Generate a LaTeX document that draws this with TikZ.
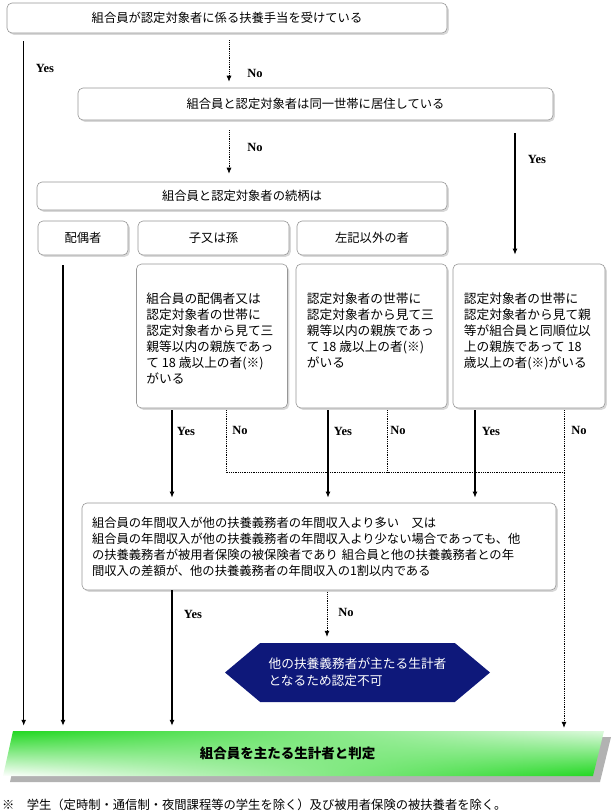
\documentclass[tikz,border=0pt]{standalone}
\usepackage{fontspec}
\setmainfont{Liberation Serif}
\newfontfamily\jpfont{Noto Sans CJK JP}
\usepackage{tikz}
\usetikzlibrary{arrows.meta,shadows,shadings,shapes.symbols,calc}
\definecolor{boxline}{RGB}{150,150,150}
\definecolor{failblue}{RGB}{14,24,122}
\definecolor{bargreen}{RGB}{30,215,30}
\newcommand{\jptext}{\jpfont\fontsize{12.3pt}{16pt}\selectfont}
\newcommand{\asktext}{\jpfont\fontsize{12.7pt}{16pt}\selectfont}

\begin{document}
\begin{tikzpicture}[x=1pt,y=-1pt,
  box/.style={draw=boxline,fill=white,rounded corners=5pt,line width=0.6pt,
    drop shadow={shadow xshift=1.8pt,shadow yshift=-1.8pt,fill=gray!60},
    inner sep=0pt,font=\jptext},
  asktxt/.style={anchor=north west,align=left,inner sep=0pt,font=\asktext},
  yesline/.style={line width=1.2pt,-{Latex[length=6pt,width=5pt]},shorten >=5pt},
  noline/.style={line width=0.7pt,dash pattern=on 1pt off 0.8pt,-{Latex[length=6pt,width=5pt]},shorten >=6pt},
  noway/.style={line width=0.7pt,dash pattern=on 1pt off 0.8pt},
  lab/.style={font=\bfseries\fontsize{12.5pt}{13pt}\selectfont,inner sep=0pt},
  fail/.style={shape=signal,signal to=west and east,signal pointer angle=80,
    fill=failblue,text=white,minimum width=265,minimum height=59,inner sep=0pt,
    align=left,font=\jpfont\fontsize{12.7pt}{17pt}\selectfont}]
\useasboundingbox (0,0) rectangle (614,812);
%
\node[box,minimum width=440,minimum height=30] (own) at (227,18) {組合員が認定対象者に係る扶養手当を受けている};
\node[box,minimum width=475,minimum height=32] (same) at (315.5,104) {組合員と認定対象者は同一世帯に居住している};
\node[box,minimum width=410,minimum height=28] (rel) at (242,196) {組合員と認定対象者の続柄は};
\node[box,minimum width=90,minimum height=34] (spouse) at (83,238) {配偶者};
\node[box,minimum width=151,minimum height=34] (child) at (213.5,238) {子又は孫};
\node[box,minimum width=150,minimum height=34] (other) at (372,238) {左記以外の者};
%
\node[box,minimum width=151,minimum height=144] (askA) at (212,336) {};
\node[box,minimum width=151,minimum height=144] (askB) at (371.5,336) {};
\node[box,minimum width=152,minimum height=144] (askC) at (529,336) {};
\node[asktxt] (askAtxt) at ($(askA.north west)+(10,29)$) {組合員の配偶者又は\\認定対象者の世帯に\\認定対象者から見て三\\親等以内の親族であっ\\て 18 歳以上の者(※)\\がいる};
\node[asktxt] (askBtxt) at ($(askB.north west)+(11,29)$) {認定対象者の世帯に\\認定対象者から見て三\\親等以内の親族であっ\\て 18 歳以上の者(※)\\がいる};
\node[asktxt] (askCtxt) at ($(askC.north west)+(11,29)$) {認定対象者の世帯に\\認定対象者から見て親\\等が組合員と同順位以\\上の親族であって 18\\歳以上の者(※)がいる};
%
\node[box,minimum width=474,minimum height=87,text width=454,align=left] (income) at (319,546.5) {組合員の年間収入が他の扶養義務者の年間収入より多い　又は\\組合員の年間収入が他の扶養義務者の年間収入より少ない場合であっても、他\\の扶養義務者が被用者保険の被保険者であり 組合員と他の扶養義務者との年\\間収入の差額が、他の扶養義務者の年間収入の1割以内である};
\node[fail] (fail) at (357.5,672.5) {他の扶養義務者が主たる生計者\\となるため認定不可};
%
\fill[gray!60] (20,737) -- (611,737) -- (600,782) -- (10,782) -- cycle;
\shade[upper left=bargreen,upper right=bargreen!15,lower left=white,lower right=bargreen]
  (13,731) -- (604,731) -- (593,776) -- (3,776) -- cycle;
\node[inner sep=0pt,minimum height=45,font=\jpfont\bfseries\fontsize{13.5pt}{14pt}\selectfont] (judge) at (287.5,753.5) {組合員を主たる生計者と判定};
\node[anchor=west,inner sep=0pt,font=\jpfont\fontsize{12.3pt}{14pt}\selectfont] (note) at (2,805) {※　学生（定時制・通信制・夜間課程等の学生を除く）及び被用者保険の被扶養者を除く。};
%
\coordinate (yesOwn) at ($(own.south west)+(17,8)$);
\coordinate (noOwn) at ($(own.south)+(2,7)$);
\coordinate (noSame) at ($(same.south)+(-86.5,10)$);
\coordinate (yesSame) at ($(same.south)+(199.5,13)$);
\coordinate (yesSpouse) at ($(spouse.south)+(-20,10)$);
\draw[yesline] (yesOwn) -- (yesOwn |- judge.north);
\draw[noline] (noOwn) -- (noOwn |- same.north);
\draw[noline,shorten >=8pt] (noSame) -- (noSame |- rel.north);
\draw[yesline,shorten >=9pt] (yesSame) -- (yesSame |- askC.north);
\draw[yesline] (yesSpouse) -- (yesSpouse |- judge.north);
%
\coordinate (yesA) at ($(askA.south)+(-40,2)$);
\coordinate (noA) at ($(askA.south)+(14,2)$);
\coordinate (yesB) at ($(askB.south)+(-43.5,2)$);
\coordinate (noB) at ($(askB.south)+(15.5,2)$);
\coordinate (yesC) at ($(askC.south)+(-54,2)$);
\coordinate (noC) at ($(askC.south)+(35,2)$);
\coordinate (join) at (noC |- 0,472);
\draw[yesline] (yesA) -- (yesA |- income.north);
\draw[yesline] (yesB) -- (yesB |- income.north);
\draw[yesline] (yesC) -- (yesC |- income.north);
\draw[noway] (noA) |- (join);
\draw[noway] (noB) -- (noB |- join);
\draw[noline,shorten >=3pt] (noC) -- (noC |- judge.north);
%
\coordinate (yesInc) at (yesA |- income.south);
\coordinate (noInc) at ($(income.south)+(8,2)$);
\draw[yesline] (yesInc) -- (yesInc |- judge.north);
\draw[noline] (noInc) -- (noInc |- fail.north);
%
\node[lab] (yOwn) at (45,68) {Yes};
\node[lab] (nOwn) at (255,73) {No};
\node[lab] (nSame) at (255,147) {No};
\node[lab] (ySame) at (537,159) {Yes};
\node[lab] (yA) at (186,431) {Yes};
\node[lab] (nA) at (240,430) {No};
\node[lab] (yB) at (343,431) {Yes};
\node[lab] (nB) at (398,430) {No};
\node[lab] (yC) at (491,431) {Yes};
\node[lab] (nC) at (579,430) {No};
\node[lab] (yInc) at (193,614) {Yes};
\node[lab] (nInc) at (346,612) {No};
\end{tikzpicture}
\end{document}
